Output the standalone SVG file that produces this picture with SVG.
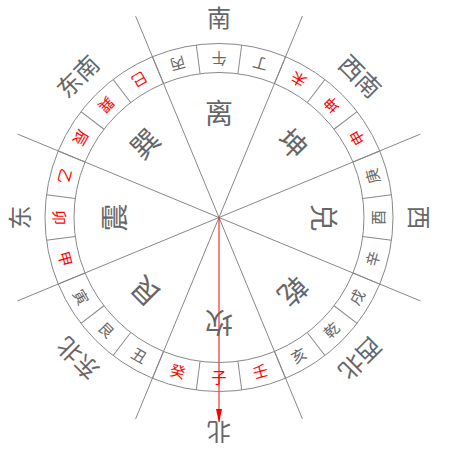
<svg xmlns="http://www.w3.org/2000/svg" width="450" height="450" viewBox="0 0 450 450">
<style>
text{font-family:"Noto Sans CJK SC","Noto Sans CJK JP",sans-serif;text-anchor:middle;dominant-baseline:central;fill:#666}
.ring{font-size:15px}
.red{fill:#f00}
.tri{font-size:28px}
.dir{font-size:24px}
.ln{stroke:#888;stroke-width:1;fill:none}
.tick{stroke:#888;stroke-width:1}
</style>
<defs>
<marker id="ah" viewBox="0 0 14 6" refX="13" refY="3" markerWidth="14" markerHeight="6" markerUnits="userSpaceOnUse" orient="auto">
<path d="M0,0 L14,3 L0,6 Z" fill="#f00"/>
</marker>
</defs>
<rect width="450" height="450" fill="#fff"/>
<g id="connectors">
<line class="ln" x1="135.6" y1="16.1" x2="302.4" y2="418.9"/>
<line class="ln" x1="302.4" y1="16.1" x2="135.6" y2="418.9"/>
<line class="ln" x1="17.6" y1="134.1" x2="420.4" y2="300.9"/>
<line class="ln" x1="420.4" y1="134.1" x2="17.6" y2="300.9"/>
<line x1="219" y1="217.5" x2="219" y2="422" stroke="#f00" stroke-width="1" marker-end="url(#ah)"/>
</g>
<g id="ring">
<circle class="ln" cx="219" cy="217.5" r="174"/>
<circle class="ln" cx="219" cy="217.5" r="145"/>
<g id="ticks">
<line class="tick" x1="219" y1="362.5" x2="219" y2="391.5" transform="rotate(7.5 219 217.5)"/>
<line class="tick" x1="219" y1="362.5" x2="219" y2="391.5" transform="rotate(22.5 219 217.5)"/>
<line class="tick" x1="219" y1="362.5" x2="219" y2="391.5" transform="rotate(37.5 219 217.5)"/>
<line class="tick" x1="219" y1="362.5" x2="219" y2="391.5" transform="rotate(52.5 219 217.5)"/>
<line class="tick" x1="219" y1="362.5" x2="219" y2="391.5" transform="rotate(67.5 219 217.5)"/>
<line class="tick" x1="219" y1="362.5" x2="219" y2="391.5" transform="rotate(82.5 219 217.5)"/>
<line class="tick" x1="219" y1="362.5" x2="219" y2="391.5" transform="rotate(97.5 219 217.5)"/>
<line class="tick" x1="219" y1="362.5" x2="219" y2="391.5" transform="rotate(112.5 219 217.5)"/>
<line class="tick" x1="219" y1="362.5" x2="219" y2="391.5" transform="rotate(127.5 219 217.5)"/>
<line class="tick" x1="219" y1="362.5" x2="219" y2="391.5" transform="rotate(142.5 219 217.5)"/>
<line class="tick" x1="219" y1="362.5" x2="219" y2="391.5" transform="rotate(157.5 219 217.5)"/>
<line class="tick" x1="219" y1="362.5" x2="219" y2="391.5" transform="rotate(172.5 219 217.5)"/>
<line class="tick" x1="219" y1="362.5" x2="219" y2="391.5" transform="rotate(187.5 219 217.5)"/>
<line class="tick" x1="219" y1="362.5" x2="219" y2="391.5" transform="rotate(202.5 219 217.5)"/>
<line class="tick" x1="219" y1="362.5" x2="219" y2="391.5" transform="rotate(217.5 219 217.5)"/>
<line class="tick" x1="219" y1="362.5" x2="219" y2="391.5" transform="rotate(232.5 219 217.5)"/>
<line class="tick" x1="219" y1="362.5" x2="219" y2="391.5" transform="rotate(247.5 219 217.5)"/>
<line class="tick" x1="219" y1="362.5" x2="219" y2="391.5" transform="rotate(262.5 219 217.5)"/>
<line class="tick" x1="219" y1="362.5" x2="219" y2="391.5" transform="rotate(277.5 219 217.5)"/>
<line class="tick" x1="219" y1="362.5" x2="219" y2="391.5" transform="rotate(292.5 219 217.5)"/>
<line class="tick" x1="219" y1="362.5" x2="219" y2="391.5" transform="rotate(307.5 219 217.5)"/>
<line class="tick" x1="219" y1="362.5" x2="219" y2="391.5" transform="rotate(322.5 219 217.5)"/>
<line class="tick" x1="219" y1="362.5" x2="219" y2="391.5" transform="rotate(337.5 219 217.5)"/>
<line class="tick" x1="219" y1="362.5" x2="219" y2="391.5" transform="rotate(352.5 219 217.5)"/>
</g>
<g id="mountains">
<text class="ring red" x="219" y="376" transform="rotate(0 219 217.5)">子</text>
<text class="ring red" x="219" y="376" transform="rotate(15 219 217.5)">癸</text>
<text class="ring" x="219" y="376" transform="rotate(30 219 217.5)">丑</text>
<text class="ring" x="219" y="376" transform="rotate(45 219 217.5)">艮</text>
<text class="ring" x="219" y="376" transform="rotate(60 219 217.5)">寅</text>
<text class="ring red" x="219" y="376" transform="rotate(75 219 217.5)">甲</text>
<text class="ring red" x="219" y="376" transform="rotate(90 219 217.5)">卯</text>
<text class="ring red" x="219" y="376" transform="rotate(105 219 217.5)">乙</text>
<text class="ring red" x="219" y="376" transform="rotate(120 219 217.5)">辰</text>
<text class="ring red" x="219" y="376" transform="rotate(135 219 217.5)">巽</text>
<text class="ring red" x="219" y="376" transform="rotate(150 219 217.5)">巳</text>
<text class="ring" x="219" y="376" transform="rotate(165 219 217.5)">丙</text>
<text class="ring" x="219" y="376" transform="rotate(180 219 217.5)">午</text>
<text class="ring" x="219" y="376" transform="rotate(195 219 217.5)">丁</text>
<text class="ring red" x="219" y="376" transform="rotate(210 219 217.5)">未</text>
<text class="ring red" x="219" y="376" transform="rotate(225 219 217.5)">坤</text>
<text class="ring red" x="219" y="376" transform="rotate(240 219 217.5)">申</text>
<text class="ring" x="219" y="376" transform="rotate(255 219 217.5)">庚</text>
<text class="ring" x="219" y="376" transform="rotate(270 219 217.5)">酉</text>
<text class="ring" x="219" y="376" transform="rotate(285 219 217.5)">辛</text>
<text class="ring" x="219" y="376" transform="rotate(300 219 217.5)">戌</text>
<text class="ring" x="219" y="376" transform="rotate(315 219 217.5)">乾</text>
<text class="ring" x="219" y="376" transform="rotate(330 219 217.5)">亥</text>
<text class="ring red" x="219" y="376" transform="rotate(345 219 217.5)">壬</text>
</g>
</g>
<g id="trigrams">
<text id="li" class="tri" x="219" y="111.5" transform="rotate(0 219 217.5)">离</text>
<text id="kun" class="tri" x="219" y="111.5" transform="rotate(45 219 217.5)">坤</text>
<text id="dui" class="tri" x="219" y="111.5" transform="rotate(90 219 217.5)">兑</text>
<text id="qian" class="tri" x="219" y="111.5" transform="rotate(135 219 217.5)">乾</text>
<text id="kan" class="tri" x="219" y="111.5" transform="rotate(180 219 217.5)">坎</text>
<text id="gen" class="tri" x="219" y="111.5" transform="rotate(225 219 217.5)">艮</text>
<text id="zhen" class="tri" x="219" y="111.5" transform="rotate(270 219 217.5)">震</text>
<text id="xun" class="tri" x="219" y="111.5" transform="rotate(315 219 217.5)">巽</text>
</g>
<g id="directions">
<text id="S" class="dir" x="219" y="16.5" transform="rotate(0 219 217.5)">南</text>
<text id="SW" class="dir" x="219" y="16.5" transform="rotate(45 219 217.5)">西南</text>
<text id="W" class="dir" x="219" y="16.5" transform="rotate(90 219 217.5)">西</text>
<text id="NW" class="dir" x="219" y="16.5" transform="rotate(135 219 217.5)">西北</text>
<text id="N" class="dir" x="219" y="1.5" transform="rotate(180 219 217.5)">北</text>
<text id="NE" class="dir" x="219" y="16.5" transform="rotate(225 219 217.5)">东北</text>
<text id="E" class="dir" x="219" y="16.5" transform="rotate(270 219 217.5)">东</text>
<text id="SE" class="dir" x="219" y="16.5" transform="rotate(315 219 217.5)">东南</text>
</g>
</svg>
